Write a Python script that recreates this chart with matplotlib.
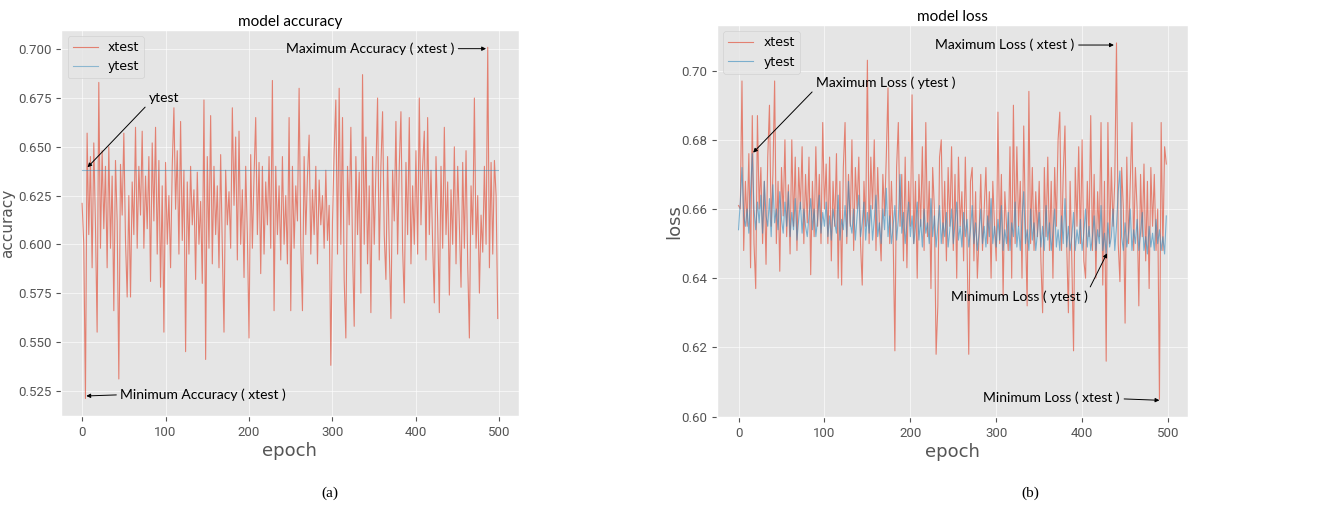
import numpy as np
from matplotlib import pyplot as plt

plt.style.use('ggplot')

# every second epoch
epochs = np.arange(0, 500, 2)

acc_xtest = [
    0.621, 0.600, 0.521, 0.657, 0.605, 0.645, 0.588, 0.652, 0.610, 0.555, 0.683, 0.598, 0.648,
    0.608, 0.640, 0.588, 0.650, 0.598, 0.635, 0.566, 0.643, 0.612, 0.531, 0.641, 0.615,
    0.657, 0.602, 0.573, 0.625, 0.573, 0.632, 0.605, 0.660, 0.598, 0.640, 0.615, 0.658, 0.598,
    0.635, 0.608, 0.645, 0.581, 0.652, 0.612, 0.660, 0.595, 0.643, 0.578, 0.630, 0.555,
    0.642, 0.600, 0.625, 0.588, 0.640, 0.670, 0.618, 0.648, 0.595, 0.663, 0.602, 0.638, 0.545,
    0.632, 0.595, 0.640, 0.610, 0.628, 0.582, 0.637, 0.600, 0.622, 0.580, 0.674, 0.541,
    0.645, 0.598, 0.666, 0.590, 0.640, 0.605, 0.630, 0.588, 0.646, 0.598, 0.555, 0.638, 0.610,
    0.627, 0.598, 0.670, 0.620, 0.655, 0.592, 0.658, 0.600, 0.628, 0.583, 0.640, 0.605,
    0.552, 0.646, 0.598, 0.635, 0.665, 0.605, 0.642, 0.585, 0.640, 0.595, 0.632, 0.610, 0.645,
    0.598, 0.684, 0.566, 0.640, 0.605, 0.630, 0.592, 0.645, 0.600, 0.625, 0.590, 0.665,
    0.566, 0.640, 0.598, 0.630, 0.612, 0.680, 0.600, 0.566, 0.645, 0.605, 0.635, 0.656, 0.595,
    0.628, 0.605, 0.640, 0.590, 0.633, 0.610, 0.625, 0.598, 0.638, 0.602, 0.620, 0.538,
    0.612, 0.648, 0.674, 0.595, 0.680, 0.600, 0.665, 0.582, 0.552, 0.640, 0.610, 0.660, 0.598,
    0.558, 0.645, 0.605, 0.637, 0.575, 0.687, 0.600, 0.655, 0.590, 0.630, 0.565, 0.645,
    0.600, 0.638, 0.675, 0.592, 0.640, 0.668, 0.605, 0.582, 0.645, 0.598, 0.562, 0.638, 0.612,
    0.663, 0.595, 0.640, 0.668, 0.598, 0.570, 0.642, 0.605, 0.665, 0.590, 0.630, 0.600,
    0.648, 0.595, 0.675, 0.610, 0.640, 0.658, 0.592, 0.665, 0.605, 0.638, 0.600, 0.570, 0.645,
    0.612, 0.565, 0.640, 0.598, 0.660, 0.605, 0.632, 0.574, 0.628, 0.600, 0.650, 0.590,
    0.640, 0.610, 0.578, 0.642, 0.598, 0.648, 0.590, 0.552, 0.630, 0.605, 0.675, 0.598, 0.625,
    0.575, 0.615, 0.596, 0.640, 0.600, 0.701, 0.588, 0.642, 0.595, 0.643, 0.625, 0.562,
]
acc_ytest = 0.638

loss_xtest = [
    0.661, 0.660, 0.697, 0.648, 0.668, 0.655, 0.676, 0.643, 0.687, 0.650, 0.637, 0.687, 0.660,
    0.672, 0.650, 0.668, 0.644, 0.675, 0.690, 0.655, 0.670, 0.697, 0.650, 0.668, 0.642,
    0.672, 0.658, 0.680, 0.652, 0.667, 0.647, 0.680, 0.655, 0.675, 0.648, 0.672, 0.660, 0.678,
    0.650, 0.670, 0.656, 0.675, 0.641, 0.668, 0.652, 0.678, 0.655, 0.670, 0.650, 0.685,
    0.660, 0.673, 0.650, 0.675, 0.645, 0.668, 0.655, 0.676, 0.640, 0.668, 0.638, 0.672, 0.685,
    0.650, 0.670, 0.655, 0.680, 0.648, 0.672, 0.660, 0.675, 0.650, 0.638, 0.668, 0.655,
    0.703, 0.650, 0.675, 0.660, 0.680, 0.648, 0.672, 0.655, 0.645, 0.670, 0.658, 0.675, 0.695,
    0.650, 0.668, 0.652, 0.619, 0.672, 0.685, 0.655, 0.670, 0.645, 0.675, 0.643, 0.668,
    0.655, 0.693, 0.650, 0.668, 0.640, 0.670, 0.655, 0.678, 0.648, 0.685, 0.652, 0.668, 0.637,
    0.672, 0.660, 0.618, 0.632, 0.675, 0.680, 0.650, 0.668, 0.645, 0.672, 0.655, 0.678,
    0.648, 0.670, 0.640, 0.675, 0.655, 0.665, 0.645, 0.675, 0.650, 0.618, 0.668, 0.672, 0.645,
    0.665, 0.640, 0.652, 0.670, 0.648, 0.660, 0.672, 0.650, 0.665, 0.640, 0.668, 0.655,
    0.645, 0.688, 0.650, 0.670, 0.635, 0.665, 0.655, 0.648, 0.678, 0.640, 0.690, 0.650, 0.678,
    0.655, 0.668, 0.640, 0.684, 0.655, 0.632, 0.694, 0.650, 0.672, 0.648, 0.665, 0.652,
    0.668, 0.645, 0.630, 0.672, 0.652, 0.675, 0.648, 0.668, 0.640, 0.672, 0.655, 0.680, 0.688,
    0.648, 0.670, 0.684, 0.650, 0.630, 0.668, 0.645, 0.619, 0.672, 0.655, 0.678, 0.650,
    0.680, 0.645, 0.640, 0.668, 0.652, 0.687, 0.648, 0.670, 0.640, 0.665, 0.652, 0.685, 0.638,
    0.668, 0.616, 0.685, 0.650, 0.672, 0.655, 0.668, 0.708, 0.650, 0.639, 0.672, 0.660,
    0.627, 0.675, 0.650, 0.668, 0.685, 0.648, 0.672, 0.660, 0.632, 0.670, 0.652, 0.673, 0.645,
    0.668, 0.637, 0.672, 0.655, 0.670, 0.648, 0.660, 0.605, 0.685, 0.648, 0.678, 0.673,
]

loss_ytest = [
    0.654, 0.662, 0.672, 0.658, 0.655, 0.660, 0.653, 0.665, 0.676, 0.660, 0.654, 0.662, 0.656,
    0.664, 0.653, 0.668, 0.658, 0.655, 0.663, 0.652, 0.667, 0.656, 0.660, 0.654, 0.665,
    0.657, 0.653, 0.662, 0.655, 0.665, 0.652, 0.659, 0.654, 0.663, 0.651, 0.657, 0.662, 0.653,
    0.660, 0.655, 0.652, 0.658, 0.663, 0.654, 0.660, 0.652, 0.657, 0.664, 0.653, 0.659,
    0.655, 0.662, 0.652, 0.658, 0.651, 0.660, 0.656, 0.653, 0.664, 0.651, 0.657, 0.654, 0.661,
    0.652, 0.668, 0.656, 0.653, 0.660, 0.651, 0.658, 0.664, 0.652, 0.656, 0.662, 0.651,
    0.659, 0.653, 0.661, 0.651, 0.657, 0.664, 0.652, 0.656, 0.650, 0.660, 0.654, 0.666, 0.652,
    0.658, 0.650, 0.655, 0.661, 0.651, 0.657, 0.670, 0.653, 0.659, 0.650, 0.656, 0.662,
    0.652, 0.658, 0.650, 0.655, 0.662, 0.651, 0.657, 0.649, 0.660, 0.653, 0.656, 0.650, 0.663,
    0.652, 0.658, 0.649, 0.655, 0.661, 0.650, 0.656, 0.652, 0.659, 0.649, 0.654, 0.660,
    0.650, 0.656, 0.662, 0.651, 0.655, 0.649, 0.659, 0.652, 0.657, 0.649, 0.654, 0.661, 0.650,
    0.656, 0.648, 0.653, 0.660, 0.650, 0.655, 0.649, 0.658, 0.652, 0.663, 0.650, 0.655,
    0.649, 0.657, 0.651, 0.661, 0.648, 0.654, 0.650, 0.659, 0.648, 0.656, 0.652, 0.662, 0.649,
    0.655, 0.648, 0.657, 0.665, 0.650, 0.654, 0.648, 0.660, 0.651, 0.656, 0.648, 0.653,
    0.659, 0.649, 0.655, 0.648, 0.661, 0.651, 0.656, 0.648, 0.653, 0.660, 0.649, 0.654, 0.648,
    0.658, 0.650, 0.663, 0.649, 0.655, 0.648, 0.652, 0.659, 0.648, 0.654, 0.650, 0.657,
    0.648, 0.653, 0.660, 0.649, 0.655, 0.648, 0.652, 0.658, 0.648, 0.654, 0.650, 0.661, 0.648,
    0.653, 0.647, 0.656, 0.649, 0.652, 0.660, 0.648, 0.655, 0.665, 0.671, 0.652, 0.648,
    0.656, 0.649, 0.653, 0.660, 0.648, 0.654, 0.650, 0.657, 0.648, 0.653, 0.659, 0.648, 0.652,
    0.647, 0.655, 0.649, 0.653, 0.648, 0.657, 0.650, 0.654, 0.648, 0.652, 0.647, 0.658,
]

note_font = 'Lato'
tick_font = 'Roboto'

fig = plt.figure(figsize=(13.33, 5.13), dpi=100)
fig.patch.set_facecolor('white')
ax1 = fig.add_axes([0.046, 0.189, 0.343, 0.753])
ax2 = fig.add_axes([0.538, 0.187, 0.353, 0.764])


def arrow(rel=(0.5, 0.5)):
    return dict(arrowstyle='-|>', color='black', lw=0.7, mutation_scale=6,
                shrinkA=1, shrinkB=0, relpos=rel)


# model accuracy
ax1.plot(epochs, acc_xtest, color='#E24A33', lw=0.8, alpha=0.65, label='xtest')
ax1.plot(epochs, [acc_ytest] * len(epochs), color='#348ABD', lw=0.8, alpha=0.5, label='ytest')
ax1.set_title('model accuracy', fontsize=11, family=note_font, pad=3, color='black')
ax1.set_xlabel('epoch', fontsize=13)
ax1.set_ylabel('accuracy', fontsize=11)
ax1.xaxis.set_label_coords(0.5, -0.067)
ax1.yaxis.set_label_coords(-0.1, 0.5)
ax1.annotate('Maximum Accuracy ( xtest )', xy=(484, 0.7003), xytext=(244, 0.7003),
             va='center', ha='left', fontsize=10, family=note_font, arrowprops=arrow((1, 0.5)))
ax1.annotate('Minimum Accuracy ( xtest )', xy=(5, 0.5223), xytext=(46, 0.5229),
             va='center', ha='left', fontsize=10, family=note_font, arrowprops=arrow((0, 0.5)))
ax1.annotate('ytest', xy=(6.5, 0.6395), xytext=(80, 0.6748),
             va='center', ha='left', fontsize=10, family=note_font, arrowprops=arrow((0, 0.1)))

# model loss
ax2.plot(epochs, loss_xtest, color='#E24A33', lw=0.8, alpha=0.65, label='xtest')
ax2.plot(epochs, loss_ytest, color='#348ABD', lw=0.8, alpha=0.6, label='ytest')
ax2.set_title('model loss', fontsize=11, family=note_font, pad=3, color='black')
ax2.set_xlabel('epoch', fontsize=13)
ax2.set_ylabel('loss', fontsize=13)
ax2.xaxis.set_label_coords(0.5, -0.066)
ax2.yaxis.set_label_coords(-0.072, 0.5)
ax2.annotate('Maximum Loss ( xtest )', xy=(437, 0.7074), xytext=(229, 0.7074),
             va='center', ha='left', fontsize=10, family=note_font, arrowprops=arrow((1, 0.5)))
ax2.annotate('Maximum Loss ( ytest )', xy=(17, 0.6763), xytext=(90, 0.6964),
             va='center', ha='left', fontsize=10, family=note_font, arrowprops=arrow((0, 0.1)))
ax2.annotate('Minimum Loss ( ytest )', xy=(429, 0.6472), xytext=(247, 0.6345),
             va='center', ha='left', fontsize=10, family=note_font, arrowprops=arrow((1, 0.9)))
ax2.annotate('Minimum Loss ( xtest )', xy=(490, 0.6047), xytext=(285, 0.6055),
             va='center', ha='left', fontsize=10, family=note_font, arrowprops=arrow((1, 0.4)))

for ax in (ax1, ax2):
    ax.legend(loc='upper left', fontsize=9)
    ax.grid(True, color='white', lw=0.8, alpha=0.6)
    for lab in ax.get_xticklabels() + ax.get_yticklabels():
        lab.set_family(tick_font)
        lab.set_fontsize(9.5)

fig.text(0.2476, 0.039, '(a)', ha='center', va='center', fontsize=11, family='Liberation Serif')
fig.text(0.7727, 0.039, '(b)', ha='center', va='center', fontsize=11, family='Liberation Serif')

plt.savefig('out.png', dpi=100)
